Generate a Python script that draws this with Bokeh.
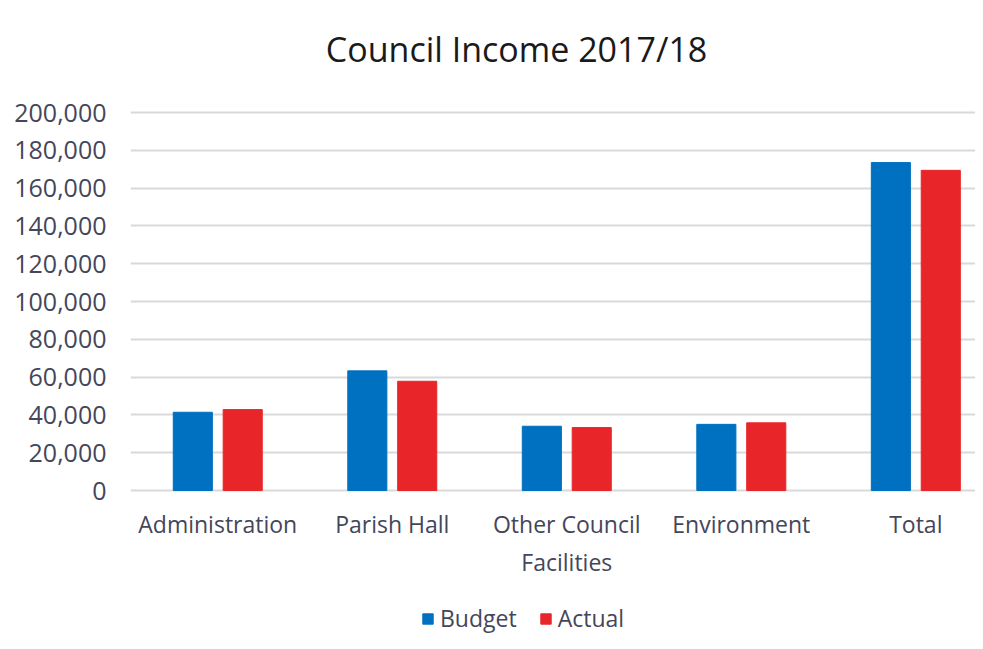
from bokeh.plotting import figure
from bokeh.models import Range1d, Legend, LegendItem, FixedTicker, ColumnDataSource, NumeralTickFormatter, Label
from bokeh.embed import file_html
from bokeh.resources import INLINE

categories = ["Administration", "Parish Hall", "Other Council\nFacilities", "Environment", "Total"]
budget = [41400, 63300, 34000, 35000, 173500]
actual = [42800, 57800, 33300, 35800, 169400]
y_ticks = [0, 20000, 40000, 60000, 80000, 100000, 120000, 140000, 160000, 180000, 200000]

# layout (pixels): frame covers the whole canvas height; value axis 0..200000 spans 378px
FRAME_H = 645
ZERO_PX = 490          # from top
SPAN_PX = 378          # px for 200,000
units_per_px = 200000 / SPAN_PX
y_top = ZERO_PX * units_per_px
y_bottom = y_top - FRAME_H * units_per_px

xs = [i + 0.5 for i in range(len(categories))]
src = ColumnDataSource(dict(
    xb=[x - 0.143 for x in xs], xa=[x + 0.143 for x in xs], budget=budget, actual=actual))

p = figure(frame_width=845, frame_height=FRAME_H, output_backend="svg", toolbar_location=None,
           x_range=Range1d(0, 4.842), y_range=Range1d(y_bottom, y_top),
           min_border_left=130, min_border_right=0, min_border_top=0, min_border_bottom=0)

rb = p.vbar(x="xb", top="budget", bottom=0, width=0.224, source=src, color="#0070C0")
ra = p.vbar(x="xa", top="actual", bottom=0, width=0.224, source=src, color="#E8262A")

title = Label(x=(516 - 130) / 174.5, y=y_top - 48 * units_per_px,
              text="Council Income 2017/18", text_align="center", text_baseline="middle",
              text_font="Open Sans", text_font_size="34px", text_color="#1a1a1a")
p.add_layout(title)

p.outline_line_color = None
p.xgrid.grid_line_color = None
p.ygrid.grid_line_color = "#d9d9d9"
p.ygrid.grid_line_width = 2
p.yaxis.ticker = FixedTicker(ticks=y_ticks)
p.yaxis.formatter = NumeralTickFormatter(format="0,0")
p.xaxis.ticker = FixedTicker(ticks=xs)
p.xaxis.major_label_overrides = {x: c for x, c in zip(xs, categories)}
p.xaxis.fixed_location = 0
for ax in (p.xaxis, p.yaxis):
    ax.axis_line_color = None
    ax.major_tick_line_color = None
    ax.minor_tick_line_color = None
    ax.major_label_text_font = "Open Sans"
    ax.major_label_text_color = "#44465a"
p.yaxis.major_label_text_font_size = "25px"
p.xaxis.major_label_text_font_size = "23px"
p.yaxis.major_label_standoff = 18
p.xaxis.major_label_standoff = 11

legend = Legend(items=[LegendItem(label="Budget", renderers=[rb]),
                       LegendItem(label="Actual", renderers=[ra])],
                orientation="horizontal", location=(291, 11),
                label_text_font="Open Sans", label_text_font_size="23px",
                label_text_color="#44465a", border_line_color=None,
                background_fill_alpha=0,
                glyph_width=13, glyph_height=13, spacing=22, label_standoff=6,
                margin=0, padding=2)
p.add_layout(legend, "center")

open("out.html", "w").write(file_html(p, INLINE))
